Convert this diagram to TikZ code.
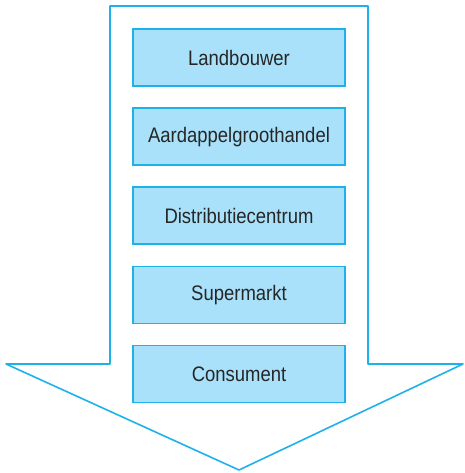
\documentclass[tikz,border=0pt]{standalone}
\usepackage{fontspec}
\setmainfont{Liberation Sans}[FakeStretch=0.88]
\usetikzlibrary{positioning}
\definecolor{pijlblauw}{HTML}{1EB1EA}
\definecolor{vakblauw}{HTML}{A9E1FA}
\tikzset{
  schakel/.style={draw=pijlblauw, fill=vakblauw, line width=1.6pt,
    minimum width=212pt, minimum height=57pt, inner sep=0pt,
    font=\fontsize{21}{25}\selectfont, text=black!85},
  ketting/.style={node distance=20.5pt}
}
\begin{document}
\begin{tikzpicture}[x=1pt,y=-1pt,ketting]
\useasboundingbox (0,0) rectangle (464,473);
\draw[pijlblauw, line width=1.6pt, line join=round] (110,6) -- (368,6) -- (368,364) -- (463,364) -- (239,470) -- (6,364) -- (110,364) -- cycle;
\node[schakel] (landbouwer) at (239,57.5) {Landbouwer};
\node[schakel, below=of landbouwer] (groothandel) {Aardappelgroothandel};
\node[schakel, below=of groothandel] (distributie) {Distributiecentrum};
\node[schakel, below=of distributie] (supermarkt) {Supermarkt};
\node[schakel, below=of supermarkt] (consument) {Consument};
\end{tikzpicture}
\end{document}
